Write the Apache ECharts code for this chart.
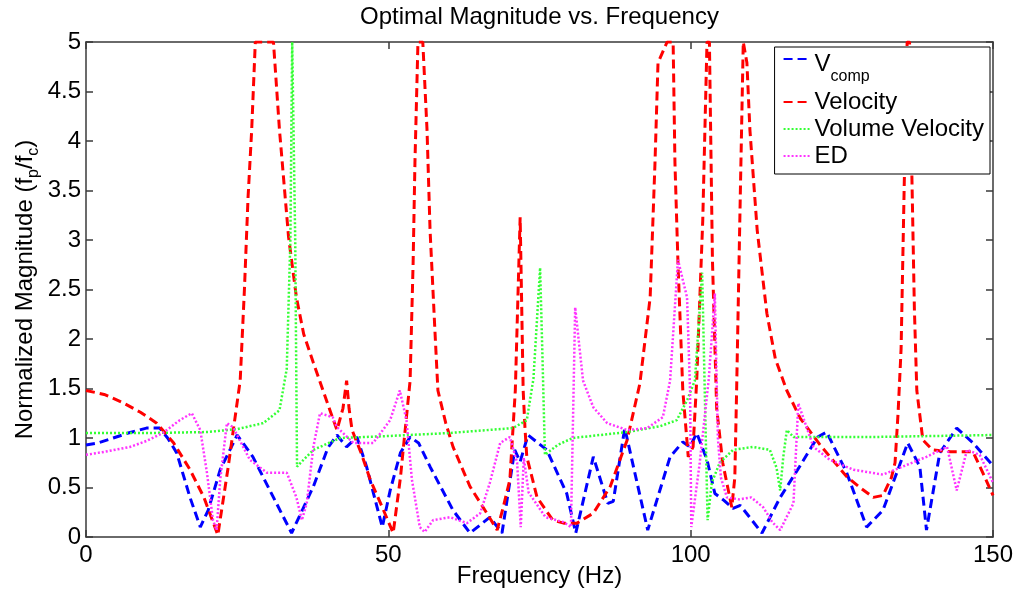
<!DOCTYPE html>
<html>
<head>
<meta charset="utf-8">
<script src="https://cdn.jsdelivr.net/npm/echarts@6/dist/echarts.min.js"></script>
<style>
html,body{margin:0;padding:0;background:#fff;}
#chart{width:1018px;height:594px;}
</style>
</head>
<body>
<div id="chart"></div>
<script>
// ---- data (frequency Hz, normalized magnitude) ----
const xTicks = [0, 50, 100, 150];
const yTicks = [0, 0.5, 1, 1.5, 2, 2.5, 3, 3.5, 4, 4.5, 5];
const seriesNames = ['Vcomp', 'Velocity', 'Volume Velocity', 'ED'];

const vcomp = [[0,0.93],[2,0.95],[4.5,1.0],[7,1.05],[10,1.1],[12.2,1.1],[13.5,1.0],[15,0.85],[17.2,0.4],[18.9,0.1],[20.2,0.27],[22.2,0.68],[25,1.03],[27.6,0.81],[31,0.4],[34,0.04],[37.6,0.51],[40,0.9],[41.5,1.03],[43.1,0.91],[44.8,1.01],[46.4,0.71],[49,0.1],[50.3,0.47],[52,0.85],[53.6,1.01],[55,0.95],[56.9,0.71],[60.7,0.27],[63.5,0.04],[66.8,0.2],[68.8,0.04],[70.9,0.88],[71.8,0.76],[73.1,1.03],[76.2,0.88],[79.5,0.44],[81,0.04],[83.9,0.81],[86.3,0.34],[87.2,0.36],[89.1,1.1],[92.9,0.07],[96.6,0.81],[98.7,0.96],[99.9,0.91],[101,1.05],[102.7,0.78],[104,0.44],[105.5,0.37],[107,0.29],[108.2,0.32],[111.8,0.04],[114.8,0.4],[118,0.71],[121,1.01],[122.5,1.06],[125.8,0.65],[129.1,0.1],[131.8,0.27],[135.9,0.95],[137.9,0.71],[139,0.07],[141.2,0.85],[144,1.1],[146.7,0.95],[150,0.72]];

const velocity = [[0,1.48],[3,1.44],[6,1.36],[9,1.26],[11.7,1.15],[14.5,0.95],[17.2,0.68],[19.5,0.4],[21.8,0.02],[23.5,0.7],[25.5,1.58],[26.2,2.5],[26.8,3.43],[27.4,4.11],[28,5],[31,5],[32,4.11],[33.5,3.03],[34.8,2.42],[36,2.05],[37.6,1.76],[39.2,1.48],[41.5,1.08],[42.5,1.3],[43.1,1.58],[43.5,1.3],[44,1.08],[45.5,0.85],[47,0.58],[49,0.3],[50.8,0.04],[52,0.6],[53.6,1.58],[54.1,2.77],[54.4,3.78],[54.9,5],[55.7,5],[56.4,4.11],[56.9,3.1],[57.7,2.09],[58.2,1.48],[59.5,1.15],[60.7,0.91],[63.5,0.51],[66.3,0.24],[68,0.07],[69,0.3],[70.1,0.58],[70.6,1.08],[71,1.48],[71.8,3.23],[72.3,1.48],[72.6,1.1],[72.9,0.81],[74.6,0.4],[77.2,0.17],[79,0.14],[81.2,0.14],[83.9,0.24],[86.7,0.51],[89.5,0.98],[91.6,1.55],[93.3,2.42],[94.1,3.78],[94.6,4.79],[96.1,5],[97.1,5],[97.4,3.78],[97.9,2.77],[98.7,1.48],[99.6,0.81],[100.4,0.91],[101,1.58],[102,3.2],[102.7,5],[103.1,5],[103.6,2.8],[104.3,1.3],[105.3,0.75],[106.8,0.3],[107.3,0.6],[107.6,1.48],[108.2,3.43],[108.7,5],[109.3,4.79],[109.8,4.11],[111,3.1],[112.6,2.26],[114,1.8],[115.9,1.48],[118.1,1.2],[121.4,0.93],[125.8,0.61],[128,0.5],[130.2,0.4],[131.8,0.42],[133.2,0.6],[133.8,0.75],[134.3,1.25],[134.8,1.9],[135.3,3.5],[135.8,5],[136.2,5],[136.6,3.6],[137,2.3],[137.4,1.48],[138.4,0.98],[140,0.88],[143,0.86],[146.7,0.86],[148.3,0.65],[150,0.42]];

const volumeVelocity = [[0,1.05],[10,1.05],[20,1.06],[25,1.09],[29.3,1.15],[32,1.28],[33.2,1.7],[33.8,3],[34.1,5],[34.3,5],[34.6,3],[34.9,0.71],[35.5,0.75],[37.6,0.88],[42,1.0],[50,1.02],[60,1.05],[70.6,1.1],[72.9,1.18],[74,1.6],[75.1,2.72],[75.5,1.8],[75.9,0.83],[78,0.93],[80.5,1.0],[89.5,1.06],[95,1.12],[97.7,1.18],[99.4,1.38],[100.7,1.58],[101.9,2.67],[102.5,1.0],[102.8,0.17],[103.5,0.55],[104.8,0.75],[107,0.88],[110.3,0.91],[113.1,0.88],[114.2,0.7],[114.8,0.47],[115.3,0.8],[115.9,1.08],[117,1.01],[130,1.01],[150,1.03]];

const ed = [[0,0.83],[3,0.86],[7.3,0.91],[10,0.97],[12.7,1.05],[15.5,1.18],[17.5,1.25],[18.9,1.08],[20,0.65],[21,0.17],[21.6,0.07],[22.2,0.58],[23.3,1.15],[24.3,1.11],[27.1,0.78],[29.9,0.65],[33.2,0.65],[34.8,0.4],[35.7,0.17],[36.5,0.34],[37.6,0.91],[38.7,1.25],[40.8,1.21],[41.5,1.11],[44.2,0.95],[47.5,0.95],[50.3,1.18],[51.9,1.48],[53,1.18],[53.9,0.58],[55.2,0.1],[56,0.05],[57.4,0.17],[60.2,0.2],[63,0.14],[65.2,0.24],[66.8,0.55],[68.5,0.95],[70.1,1.01],[71.3,0.75],[71.9,0.1],[72.4,0.8],[73.2,0.45],[76,0.2],[79,0.15],[80.2,0.1],[80.9,2.32],[82.2,1.58],[83.9,1.31],[86.2,1.15],[89.5,1.08],[92.8,1.1],[95.4,1.21],[96.6,1.58],[97.9,2.8],[99.4,2.42],[99.9,1.48],[100.1,0.1],[101.5,0.75],[103,1.6],[104,2.46],[104.5,1.0],[105,0.6],[106,0.4],[108,0.38],[110,0.4],[112,0.3],[113.5,0.15],[114.8,0.07],[117,0.34],[117.8,1.35],[120.3,0.91],[123,0.78],[126.9,0.68],[131.8,0.63],[135.8,0.73],[139,0.81],[142.4,0.91],[144,0.47],[145.7,0.88],[147.8,0.83],[150,0.55]];

// ---- chart ----
const FONT = '"Liberation Sans", Arial, Helvetica, sans-serif';
const axisLineStyle = {color: '#3a3a3a', width: 1.5};
const chart = echarts.init(document.getElementById('chart'), null, {renderer: 'canvas'});

function xAxisDef(pos, showLabel) {
  return {
    type: 'value', position: pos, min: xTicks[0], max: xTicks[xTicks.length - 1],
    interval: xTicks[1] - xTicks[0],
    axisLine: {show: true, onZero: false, lineStyle: axisLineStyle},
    axisTick: {show: true, inside: true, length: 7, lineStyle: axisLineStyle},
    axisLabel: {show: showLabel, color: '#000', fontSize: 24, fontFamily: FONT, margin: 6},
    splitLine: {show: false}
  };
}
function yAxisDef(pos, showLabel) {
  return {
    type: 'value', position: pos, min: yTicks[0], max: yTicks[yTicks.length - 1],
    interval: yTicks[1] - yTicks[0],
    axisLine: {show: true, onZero: false, lineStyle: axisLineStyle},
    axisTick: {show: true, inside: true, length: 7, lineStyle: axisLineStyle},
    axisLabel: {show: showLabel, color: '#000', fontSize: 24, fontFamily: FONT, margin: 5},
    splitLine: {show: false}
  };
}

const xMain = xAxisDef('bottom', true);
xMain.name = 'Frequency (Hz)';
xMain.nameLocation = 'middle';
xMain.nameGap = 27;
xMain.nameMoveOverlap = false;
xMain.nameTextStyle = {color: '#000', fontSize: 24, fontFamily: FONT};

const yMain = yAxisDef('left', true);
yMain.name = '{a|Normalized Magnitude (f}{s|p}{a|/f}{s|c}{a|)}';
yMain.nameLocation = 'middle';
yMain.nameGap = 49;
yMain.nameMoveOverlap = false;
yMain.nameTextStyle = {
  color: '#000', fontSize: 24, fontFamily: FONT,
  rich: {
    a: {fontSize: 24, lineHeight: 24, fontFamily: FONT, color: '#000', verticalAlign: 'top'},
    s: {fontSize: 16, lineHeight: 16, fontFamily: FONT, color: '#000', verticalAlign: 'top', padding: [13, 0, 0, 0]}
  }
};

function lineSeries(name, data, color, type, width) {
  return {
    name: name, type: 'line', data: data, xAxisIndex: 0, yAxisIndex: 0,
    symbol: 'none', showSymbol: false, smooth: false, clip: true,
    lineStyle: {color: color, width: width, type: type},
    itemStyle: {color: color}
  };
}

chart.setOption({
  animation: false,
  backgroundColor: '#fff',
  title: {
    text: 'Optimal Magnitude vs. Frequency',
    left: 539.5, top: 5, textAlign: 'center', padding: 0,
    textStyle: {color: '#000', fontSize: 24, fontWeight: 'normal', fontFamily: FONT}
  },
  grid: {left: 86, right: 25, top: 42, bottom: 57, containLabel: false, outerBoundsMode: 'none'},
  xAxis: [xMain, xAxisDef('top', false)],
  yAxis: [yMain, yAxisDef('right', false)],
  legend: {
    orient: 'vertical', right: 28, top: 47,
    backgroundColor: '#fff', borderColor: '#000', borderWidth: 1,
    padding: [0, 6, 6, 8], itemGap: 3, itemWidth: 26, itemHeight: 14,
    itemStyle: {opacity: 0},
    data: seriesNames,
    textStyle: {
      color: '#000', fontSize: 24, fontFamily: FONT,
      rich: {
        v: {fontSize: 24, lineHeight: 24, fontFamily: FONT, color: '#000', verticalAlign: 'top', padding: [5, 0, 0, 0]},
        s: {fontSize: 16, lineHeight: 16, fontFamily: FONT, color: '#000', verticalAlign: 'top', padding: [22, 0, 2, 0]}
      }
    },
    formatter: function (n) { return n === 'Vcomp' ? '{v|V}{s|comp}' : n; }
  },
  series: [
    lineSeries(seriesNames[0], vcomp, '#0000ff', [9, 5], 3),
    lineSeries(seriesNames[1], velocity, '#ff0000', [9, 5], 3),
    lineSeries(seriesNames[2], volumeVelocity, '#33ff33', [2, 2], 2.5),
    lineSeries(seriesNames[3], ed, '#ff33ff', [2, 2], 2.5)
  ]
});
</script>
</body>
</html>
